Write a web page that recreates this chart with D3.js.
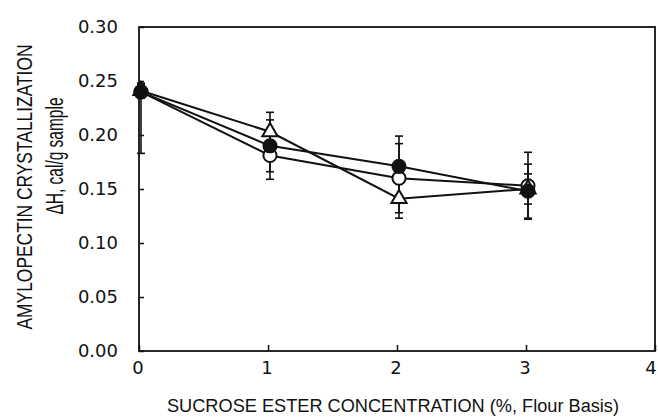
<!DOCTYPE html>
<html>
<head>
<meta charset="utf-8">
<script src="https://cdn.jsdelivr.net/npm/d3@7"></script>
<style>
  body { margin: 0; background: #fff; }
  svg { display: block; }
  text { font-family: "Liberation Sans", Arial, sans-serif; fill: #111; }
  .tick-label { font-family: "DejaVu Sans", "Liberation Sans", sans-serif; font-size: 18px; }
</style>
</head>
<body>
<svg id="chart" width="658" height="417"></svg>
<script>
///////////////////////////////////////////
// Data
///////////////////////////////////////////
var concentration = [0, 1, 2, 3];

var filledCircle = [0.240, 0.190, 0.171, 0.148];
var openCircle   = [0.240, 0.181, 0.160, 0.153];
var openTriangle = [0.241, 0.203, 0.141, 0.150];

// error bar half-lengths, above and below the mean
var filledErrUp     = [0.008, 0.024, 0.028, 0.025];
var filledErrDown   = [0.057, 0.024, 0.028, 0.025];
var openErrUp       = [0.006, 0.022, 0.032, 0.031];
var openErrDown     = [0.006, 0.022, 0.032, 0.031];
var triangleErrUp   = [0.006, 0.018, 0.018, 0.014];
var triangleErrDown = [0.006, 0.018, 0.018, 0.014];

var xTicks = [0, 1, 2, 3, 4];
var yTicks = [0.00, 0.05, 0.10, 0.15, 0.20, 0.25, 0.30];

///////////////////////////////////////////
// Chart
///////////////////////////////////////////
var svg = d3.select("#chart");

var x = d3.scaleLinear().domain([0, 4]).range([139, 655]);
var y = d3.scaleLinear().domain([0, 0.30]).range([351, 27]);

// frame
svg.append("rect")
    .attr("x", x(0)).attr("y", y(0.30))
    .attr("width", x(4) - x(0)).attr("height", y(0) - y(0.30))
    .attr("fill", "none").attr("stroke", "#111").attr("stroke-width", 1.8);

// axes with inward ticks
var yAxis = svg.append("g")
    .attr("transform", "translate(" + x(0) + ",0)")
    .call(d3.axisRight(y).tickValues(yTicks).tickSize(5).tickFormat(""));
var xAxis = svg.append("g")
    .attr("transform", "translate(0," + y(0) + ")")
    .call(d3.axisTop(x).tickValues(xTicks).tickSize(6).tickFormat(""));
[yAxis, xAxis].forEach(function(a) {
    a.select(".domain").remove();
    a.selectAll("line").attr("stroke", "#111").attr("stroke-width", 1.5);
});

// tick labels
svg.append("g").selectAll("text")
    .data(yTicks).enter().append("text")
    .attr("class", "tick-label")
    .attr("x", 118)
    .attr("y", function(d) { return y(d); })
    .attr("dy", "0.36em")
    .attr("text-anchor", "end")
    .text(d3.format(".2f"));

svg.append("g").selectAll("text")
    .data(xTicks).enter().append("text")
    .attr("class", "tick-label")
    .attr("x", function(d) { return Math.min(x(d) - 1, 651); })
    .attr("y", 374)
    .attr("text-anchor", "middle")
    .text(function(d) { return d; });

// axis titles (the scan's lettering is tall and narrow, so stretch it)
svg.append("text")
    .attr("x", 393).attr("y", 412)
    .attr("text-anchor", "middle")
    .attr("textLength", 452).attr("lengthAdjust", "spacingAndGlyphs")
    .style("font-size", "18px")
    .text("SUCROSE ESTER CONCENTRATION (%, Flour Basis)");

svg.append("text")
    .attr("transform", "translate(32,187) rotate(-90) scale(1,1.4)")
    .attr("text-anchor", "middle")
    .attr("textLength", 285).attr("lengthAdjust", "spacingAndGlyphs")
    .style("font-size", "16px")
    .text("AMYLOPECTIN CRYSTALLIZATION");

svg.append("text")
    .attr("transform", "translate(63,156) rotate(-90) scale(1,1.5)")
    .attr("text-anchor", "middle")
    .attr("textLength", 117).attr("lengthAdjust", "spacingAndGlyphs")
    .style("font-size", "16px")
    .text("\u0394H, cal/g sample");

///////////////////////////////////////////
// Series
///////////////////////////////////////////
var series = [
    { name: "open",     values: openCircle,   up: openErrUp,     down: openErrDown },
    { name: "triangle", values: openTriangle, up: triangleErrUp, down: triangleErrDown },
    { name: "filled",   values: filledCircle, up: filledErrUp,   down: filledErrDown }
];

var line = d3.line()
    .x(function(d) { return x(d.c) + 2; })
    .y(function(d) { return y(d.v); });

function points(s) {
    return concentration.map(function(c, i) {
        return { c: c, v: s.values[i], hi: s.values[i] + s.up[i], lo: s.values[i] - s.down[i] };
    });
}

// error bars
series.forEach(function(s) {
    var g = svg.append("g").attr("stroke", "#111").attr("stroke-width", 1.6);
    var p = points(s);
    g.selectAll(".bar").data(p).enter().append("line")
        .attr("x1", function(d) { return x(d.c) + 2; })
        .attr("x2", function(d) { return x(d.c) + 2; })
        .attr("y1", function(d) { return y(d.hi); })
        .attr("y2", function(d) { return y(d.lo); });
    ["hi", "lo"].forEach(function(k) {
        g.selectAll(".cap-" + k).data(p).enter().append("line")
            .attr("x1", function(d) { return x(d.c) - 2; })
            .attr("x2", function(d) { return x(d.c) + 6; })
            .attr("y1", function(d) { return y(d[k]); })
            .attr("y2", function(d) { return y(d[k]); });
    });
});

// connecting lines
series.forEach(function(s) {
    svg.append("path")
        .datum(points(s))
        .attr("d", line)
        .attr("fill", "none")
        .attr("stroke", "#111")
        .attr("stroke-width", 2);
});

// markers
var sym = {
    open:     d3.symbol().type(d3.symbolCircle).size(135),
    filled:   d3.symbol().type(d3.symbolCircle).size(135),
    triangle: d3.symbol().type(d3.symbolTriangle).size(100)
};

series.forEach(function(s) {
    svg.append("g").selectAll("path")
        .data(points(s)).enter().append("path")
        .attr("transform", function(d) { return "translate(" + (x(d.c) + 2) + "," + y(d.v) + ")"; })
        .attr("d", sym[s.name])
        .attr("fill", s.name == "filled" ? "#111" : "#fff")
        .attr("stroke", "#111")
        .attr("stroke-width", 2);
});
</script>
</body>
</html>
